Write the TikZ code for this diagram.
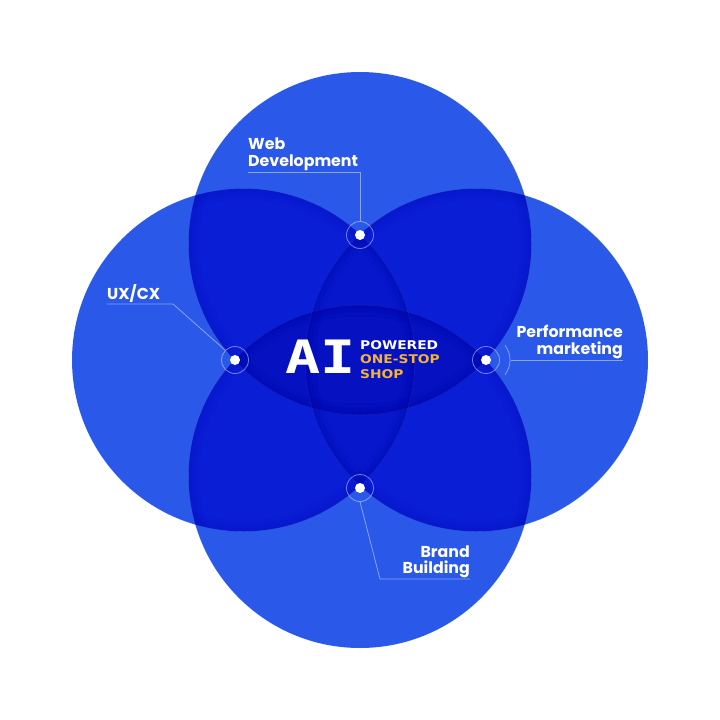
\documentclass[tikz,border=0pt]{standalone}
\usepackage{fontspec}
\setmainfont{Poppins}
\newfontfamily\boxfont{DejaVu Sans}
\newfontfamily\aifont{DejaVu Sans Mono}
\definecolor{base}{HTML}{2A58E8}
\definecolor{pair}{HTML}{0A1ED6}
\definecolor{triple}{HTML}{0717CC}
\definecolor{quad}{HTML}{0612C2}
\definecolor{shade}{HTML}{0008A8}
\definecolor{gold}{HTML}{F5B335}
\tikzset{
  dotnode/.style={circle, fill=white, minimum size=10pt, inner sep=0pt},
  ringnode/.style={circle, draw=white, draw opacity=0.45, line width=0.8pt, minimum size=27pt, inner sep=0pt},
  leader/.style={draw=white, draw opacity=0.45, line width=0.8pt},
  lbl/.style={text=white, inner sep=0pt, font=\bfseries\fontsize{15.8}{18}\selectfont},
  ctr/.style={inner sep=0pt, align=left, font=\boxfont\bfseries\fontsize{12}{14.5}\selectfont},
  edge/.style={draw=white, draw opacity=0.08, line width=0.6pt},
  glow/.style={draw=shade, draw opacity=0.06}
}
\begin{document}
\begin{tikzpicture}[x=1pt,y=-1pt]
\useasboundingbox (0,0) rectangle (720,720);
\fill[white] (0,0) rectangle (720,720);
\def\R{171.5}
\coordinate (cT) at (360,243.5);
\coordinate (cB) at (360,476.5);
\coordinate (cL) at (243.5,360);
\coordinate (cR) at (476.5,360);
% base circles
\foreach \c in {cT,cB,cL,cR} \fill[base] (\c) circle[radius=\R];
% pairwise overlaps
\begin{scope}
  \clip (cT) circle[radius=\R];
  \fill[pair] (cL) circle[radius=\R];
  \fill[pair] (cR) circle[radius=\R];
\end{scope}
\begin{scope}
  \clip (cB) circle[radius=\R];
  \fill[pair] (cL) circle[radius=\R];
  \fill[pair] (cR) circle[radius=\R];
\end{scope}
% vertical lens
\begin{scope}
  \clip (cL) circle[radius=\R];
  \fill[triple] (cR) circle[radius=\R];
\end{scope}
% horizontal lens
\begin{scope}
  \clip (cT) circle[radius=\R];
  \fill[quad] (cB) circle[radius=\R];
\end{scope}
% soft inner shading along edges inside overlaps
\foreach \a/\b in {cT/cL,cT/cR,cT/cB,cB/cL,cB/cR,cB/cT,cL/cT,cL/cB,cL/cR,cR/cT,cR/cB,cR/cL}{
  \begin{scope}
    \clip (\b) circle[radius=\R];
    \clip (\a) circle[radius=\R];
    \draw[glow, line width=22pt] (\a) circle[radius=\R];
    \draw[glow, line width=13pt] (\a) circle[radius=\R];
    \draw[glow, line width=6pt] (\a) circle[radius=\R];
  \end{scope}
}
% faint edges
\foreach \c in {cT,cB,cL,cR} \draw[edge] (\c) circle[radius=\R];

% dots and rings
\node[ringnode] (rW) at (360,235) {};
\node[ringnode] (rU) at (235,360) {};
\node[ringnode] (rP) at (486,360) {};
\node[ringnode] (rB) at (360,488) {};
\node[dotnode] (pW) at (rW) {};
\node[dotnode] (pU) at (rU) {};
\node[dotnode] (pP) at (rP) {};
\node[dotnode] (pB) at (rB) {};

% labels
\node[lbl, anchor=base west] (web1) at (248,149) {Web};
\node[lbl, anchor=base west] (web2) at (248,166) {Development};
\node[lbl, anchor=base west] (ux) at (107,299) {UX/CX};
\node[lbl, anchor=base east] (perf1) at (623,337) {Performance};
\node[lbl, anchor=base east] (perf2) at (623,354) {marketing};
\node[lbl, anchor=base east] (br1) at (470,557) {Brand};
\node[lbl, anchor=base east] (br2) at (470,573) {Building};

% leaders
\coordinate (wA) at (248,172);
\coordinate (wB) at (360,172);
\draw[leader] (wA) -- (wB) -- (rW.north);
\coordinate (uA) at (107,304);
\coordinate (uB) at (173,304);
\draw[leader] (uA) -- (uB) -- (rU.north west);
\coordinate (bA) at (470,579);
\coordinate (bB) at (380,579);
\draw[leader] (bA) -- (bB) -- (rB.south);
\draw[leader] (rP.center) ++(-38:24) arc[start angle=-38, end angle=38, radius=24];
\coordinate (pA) at (511,360);
\coordinate (pB) at (623,360);
\draw[leader] (pA) -- (pB);

% center text
\node[text=white, inner sep=0pt, anchor=base east, font=\aifont\bfseries\fontsize{46}{46}\selectfont] (ai) at (356,373) {\scalebox{1.27}[1]{AI}};
\node[ctr, text=white, anchor=west] (tag) at (360,359.5)
  {\scalebox{1.15}[1]{POWERED}\\
   \textcolor{gold}{\scalebox{1.15}[1]{ONE-STOP}}\\
   \textcolor{gold}{\scalebox{1.15}[1]{SHOP}}};
\end{tikzpicture}
\end{document}
